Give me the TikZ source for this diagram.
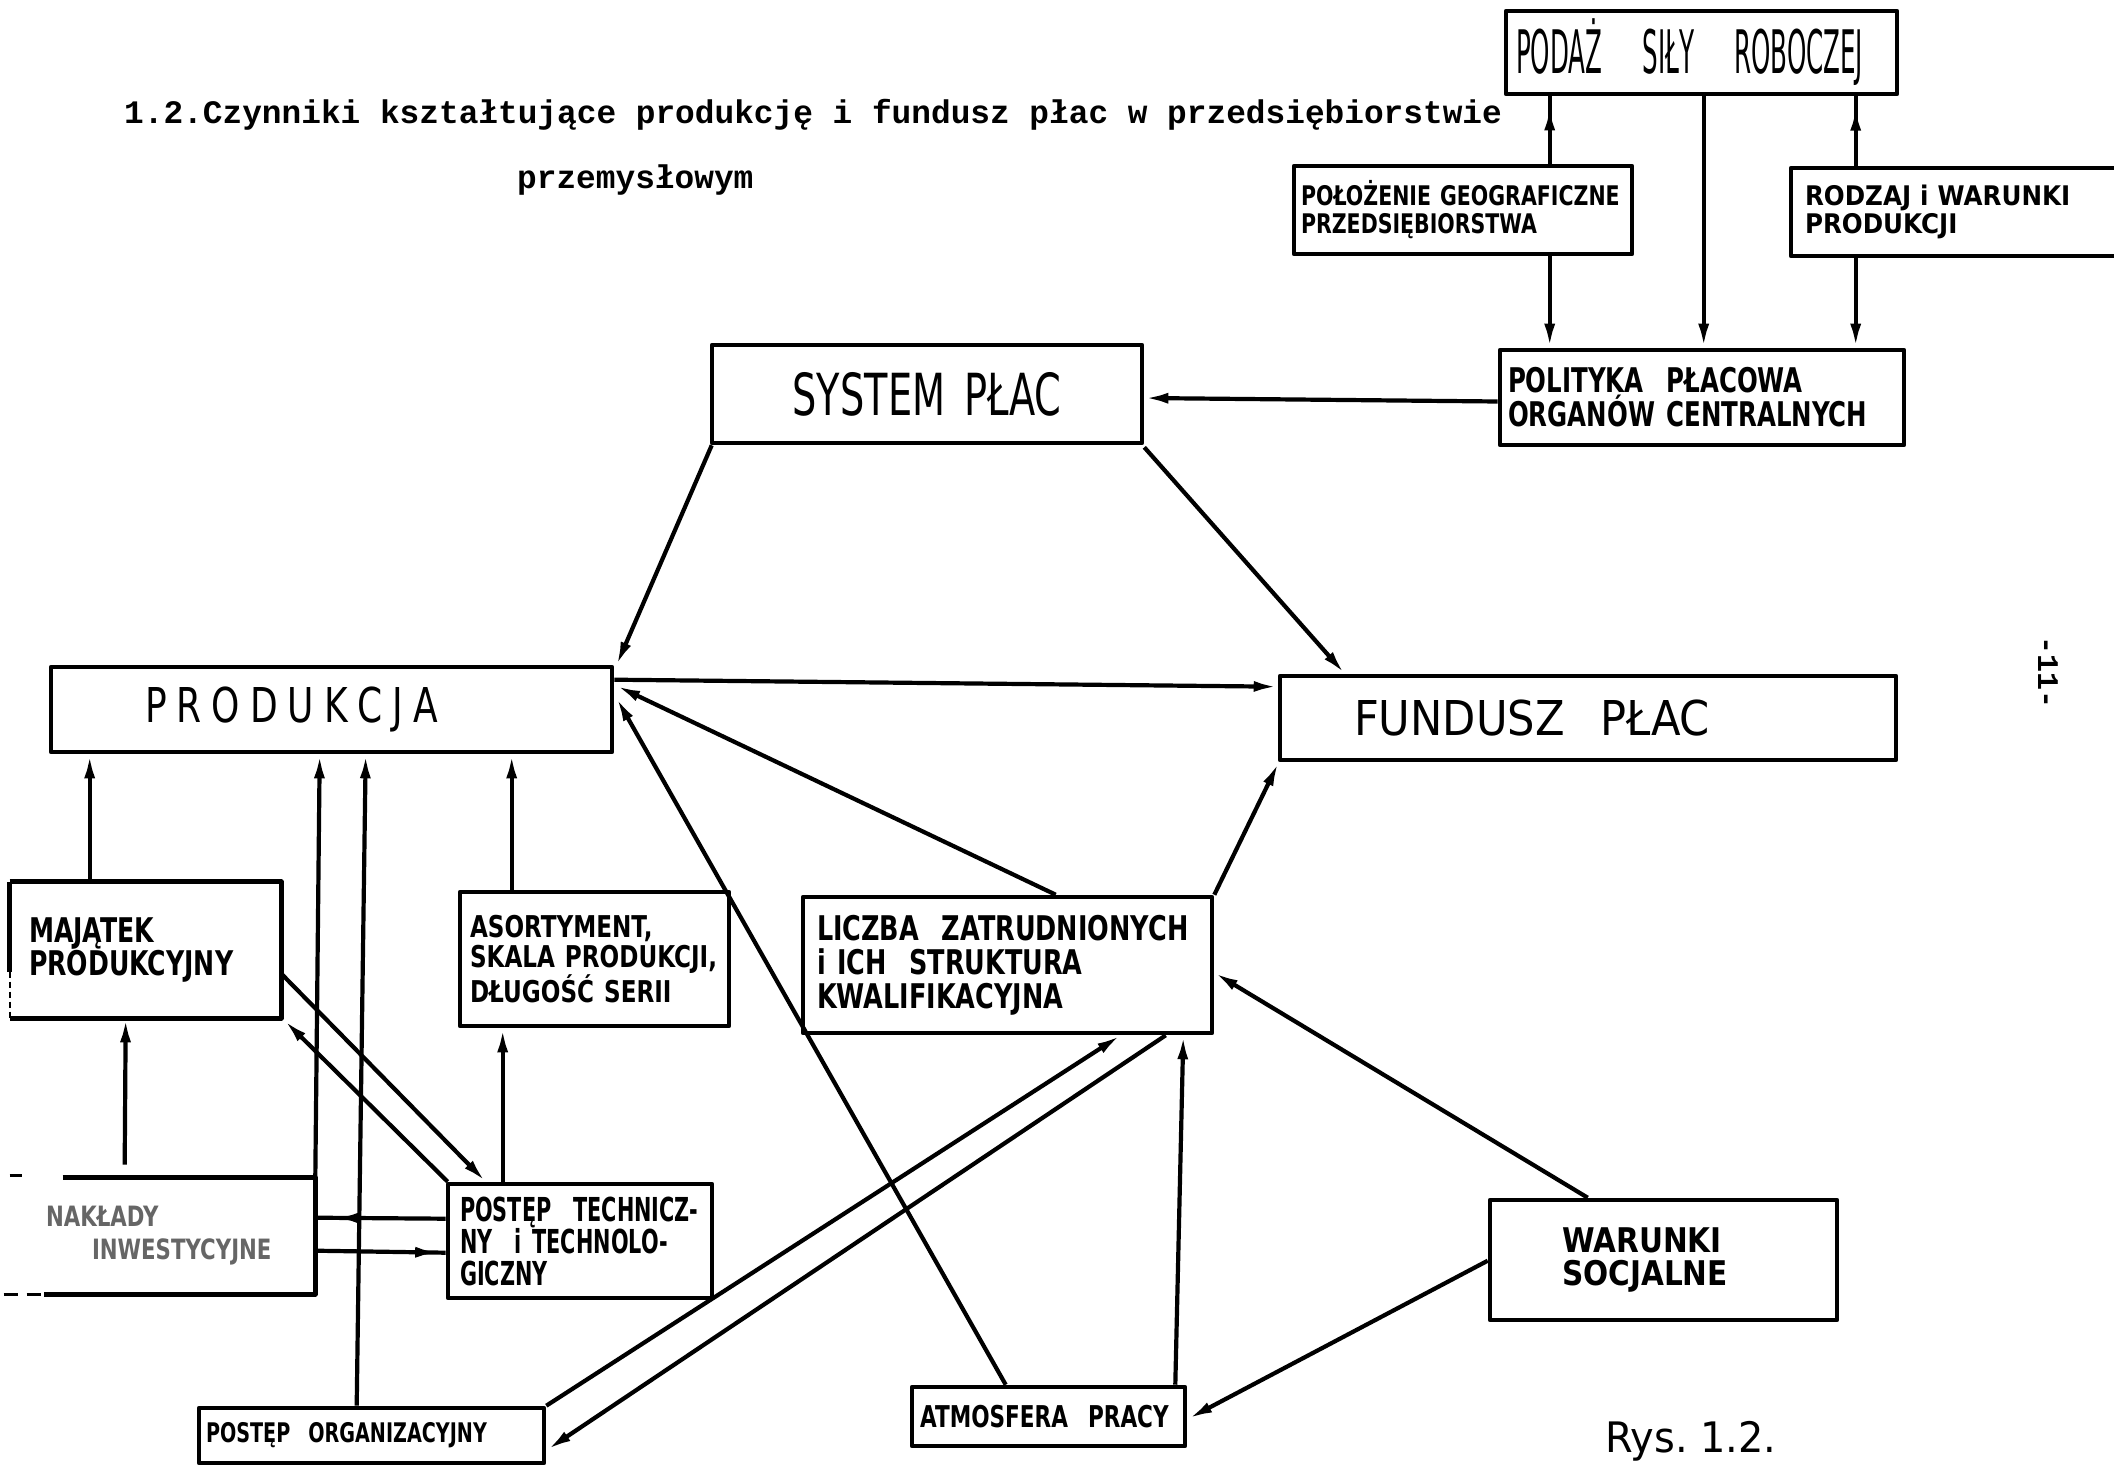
\documentclass[tikz,border=0pt]{standalone}
\usepackage{fontspec}
\setmainfont{DejaVu Sans}
\newfontfamily\hand{DejaVu Sans}
\newfontfamily\typew{Liberation Mono}
\usetikzlibrary{arrows.meta,calc,decorations.markings}

% hand lettering: size, baselineskip, horizontal stretch (no hyphenation inside boxes)
\newcommand\nohyph{\hyphenpenalty=10000 \exhyphenpenalty=10000 }
\newcommand\hwr[3]{\nohyph\hand\fontsize{#1pt}{#2pt}\selectfont\addfontfeature{FakeStretch=#3}}
\newcommand\hwb[3]{\nohyph\hand\bfseries\fontsize{#1pt}{#2pt}\selectfont\addfontfeature{FakeStretch=#3}}
\newcommand\ltrgap{\kern10pt}

\tikzset{
  boxline/.style={line width=4.6pt, line join=round},
  box/.style={boxline, draw, inner ysep=0pt, align=left},
  conn/.style={line width=4.2pt, -{Latex[length=24pt,width=11pt]}},
  midtip/.style={line width=4.2pt,
    decoration={markings, mark=at position #1 with {\arrow{Latex[length=24pt,width=11pt]}}},
    postaction={decorate}},
  typed/.style={inner sep=0pt, font=\typew\bfseries\fontsize{32.8pt}{34pt}\selectfont},
}

\begin{document}
\begin{tikzpicture}[x=1pt,y=-1pt]
\useasboundingbox (0,0) rectangle (2114,1469);

% headline
\node[typed, anchor=base west] (title) at (124,124)
  {1.2.Czynniki kształtujące produkcję i fundusz płac w przedsiębiorstwie};
\node[typed, anchor=base west] (title2) at (517,188) {przemysłowym};

% boxes
\node[box, minimum width=391pt, minimum height=83pt, text width=371pt, inner xsep=10pt,
  font={\hwr{60}{60}{0.41}}] (podaz) at (1701.5,52.5) {PODAŻ~~SIŁY~~ROBOCZEJ};
\node[box, minimum width=338pt, minimum height=88pt, text width=324pt, inner xsep=7pt,
  font={\hwb{27}{28}{0.76}}] (polo) at (1463,210) {POŁOŻENIE~GEOGRAFICZNE\\PRZEDSIĘBIORSTWA};
\node[box, minimum width=334pt, minimum height=88pt, text width=306pt, inner xsep=14pt,
  font={\hwb{27}{28}{0.91}}] (rodz) at (1958,212) {RODZAJ~i~WARUNKI\\PRODUKCJI};
\node[box, minimum width=404pt, minimum height=95pt, text width=388pt, inner xsep=8pt,
  font={\hwb{34}{34}{0.72}}] (polit) at (1702,397.5) {POLITYKA~~PŁACOWA\\ORGANÓW~CENTRALNYCH};
\node[box, align=center, minimum width=430pt, minimum height=98pt, text width=400pt, inner xsep=15pt,
  font={\hwr{58}{60}{0.66}}] (sys) at (927,394) {SYSTEM~PŁAC};
\node[box, minimum width=561pt, minimum height=85pt, text width=373pt, inner xsep=94pt,
  font={\hwr{48}{50}{0.75}}] (prod) at (331.5,709.5)
  {P\ltrgap R\ltrgap O\ltrgap D\ltrgap U\ltrgap K\ltrgap C\ltrgap J\ltrgap A};
\node[box, minimum width=616pt, minimum height=84pt, text width=468pt, inner xsep=74pt,
  font={\hwr{48}{50}{0.9}}] (fund) at (1588,718) {FUNDUSZ\hspace{36pt}PŁAC};
\node[box, draw=none, minimum width=267pt, minimum height=132pt, text width=233pt, inner xsep=17pt,
  font={\hwb{34}{30}{0.74}}] (maj) at (145.5,950) {MAJĄTEK\\PRODUKCYJNY};
\node[box, minimum width=269pt, minimum height=134pt, text width=249pt, inner xsep=10pt,
  font={\hwb{30}{30}{0.77}}] (asort) at (594.5,959) {ASORTYMENT,\\SKALA~PRODUKCJI,\\DŁUGOŚĆ~SERII};
\node[box, minimum width=409pt, minimum height=136pt, text width=381pt, inner xsep=14pt,
  font={\hwb{34}{34}{0.75}}] (licz) at (1007.5,965) {LICZBA~~ZATRUDNIONYCH\\i~ICH~~STRUKTURA\\KWALIFIKACYJNA};
\node[box, draw=none, text=black!60, minimum width=333pt, minimum height=112pt, text width=201pt, inner xsep=66pt,
  font={\hwb{28}{33}{0.76}}] (nakl) at (146.5,1236) {NAKŁADY\\\hspace*{46pt}INWESTYCYJNE};
\node[box, minimum width=264pt, minimum height=114pt, text width=240pt, inner xsep=12pt,
  font={\hwb{33}{32}{0.63}}] (ptech) at (580,1241) {POSTĘP~~TECHNICZ-\\NY~~i~TECHNOLO-\\GICZNY};
\node[box, minimum width=347pt, minimum height=120pt, text width=203pt, inner xsep=72pt,
  font={\hwb{34}{33}{0.87}}] (warsoc) at (1663.5,1260) {WARUNKI\\SOCJALNE};
\node[box, minimum width=345pt, minimum height=55pt, text width=331pt, inner xsep=7pt,
  font={\hwb{27}{28}{0.71}}] (porg) at (371.5,1435.5) {POSTĘP~~ORGANIZACYJNY};
\node[box, minimum width=273pt, minimum height=59pt, text width=257pt, inner xsep=8pt,
  font={\hwb{30}{30}{0.72}}] (atmo) at (1048.5,1416.5) {ATMOSFERA~~PRACY};

% open-sided outlines
\draw[boxline] (maj.north west) -- (maj.north east) -- (maj.south east) -- (maj.south west);
\draw[boxline] (maj.north west) -- ($(maj.north west)+(0,90)$);
\draw[line width=2pt, dash pattern=on 6pt off 4pt] ($(maj.north west)+(0,90)$) -- (maj.south west);
\draw[boxline] ($(nakl.north west)+(85,0)$) -- (nakl.north east) -- (nakl.south east) -- ($(nakl.south west)+(66,0)$);
\draw[line width=3pt] ($(nakl.north west)+(32,-2)$) -- ($(nakl.north west)+(44,-2)$);
\draw[line width=2.5pt, dash pattern=on 14pt off 9pt] ($(nakl.south west)+(26,0)$) -- ($(nakl.south west)+(66,0)$);

% labour supply block
\draw[midtip=0.85] ($(polo.north west)+(258,0)$) -- ($(podaz.south west)+(46,0)$);
\draw[conn] ($(polo.south west)+(258,0)$) -- ($(polit.north west)+(52,0)$);
\draw[conn] ($(podaz.south west)+(200,0)$) -- ($(polit.north west)+(206,0)$);
\draw[midtip=0.85] ($(rodz.north west)+(67,0)$) -- ($(podaz.south west)+(352,0)$);
\draw[conn] ($(rodz.south west)+(67,0)$) -- ($(polit.north west)+(358,0)$);
\draw[conn] ($(polit.west)+(0,4)$) -- ($(sys.east)+(0,4)$);

% wage system, production, wage fund
\draw[conn] ($(sys.south west)+(2,0)$) -- ($(prod.north east)+(2,1)$);
\draw[conn] ($(sys.south east)+(0,2)$) -- ($(fund.north west)+(67,0)$);
\draw[conn] ($(prod.north east)+(0,15)$) -- ($(fund.north west)+(0,13)$);
\draw[conn] ($(licz.north west)+(255,0)$) -- ($(prod.north east)+(2,21)$);
\draw[conn] (licz.north east) -- ($(fund.south west)+(1,0)$);
\draw[conn] ($(atmo.north west)+(96,0)$) -- ($(prod.north east)+(2,33)$);
\draw[conn] ($(atmo.north east)+(-12,0)$) -- ($(licz.south east)+(-31,0)$);
\draw[conn] ($(warsoc.north west)+(100,0)$) -- ($(licz.north east)+(0,78)$);
\draw[conn] ($(warsoc.north west)+(0,63)$) -- ($(atmo.north east)+(1,34)$);
\draw[conn] (porg.north east) -- ($(licz.south west)+(320,0)$);
\draw[conn] ($(licz.south west)+(365,0)$) -- ($(porg.north east)+(1,44)$);

% factors below production
\draw[conn] ($(maj.north west)+(80,0)$) -- ($(prod.south west)+(41,0)$);
\draw[conn] (nakl.north east) -- ($(prod.south west)+(271,0)$);
\draw[conn] ($(porg.north west)+(160,0)$) -- ($(prod.south west)+(317,0)$);
\draw[conn] ($(asort.north west)+(54,0)$) -- ($(prod.south west)+(463,0)$);
\draw[conn] ($(nakl.north west)+(147,-13)$) -- ($(maj.south west)+(116,0)$);
\draw[conn] ($(ptech.north west)+(57,0)$) -- ($(asort.south west)+(45,0)$);
\draw[conn] ($(maj.north east)+(1,93)$) -- ($(ptech.north west)+(40,0)$);
\draw[conn] ($(ptech.north west)+(2,0)$) -- ($(maj.south east)+(3,2)$);
\draw[midtip=0.85] ($(ptech.north west)+(0,37)$) -- ($(nakl.north east)+(0,40)$);
\draw[midtip=0.95] ($(nakl.north east)+(0,73)$) -- ($(ptech.north west)+(0,71)$);

% figure caption and page mark
\node[anchor=base west, inner sep=0pt, font={\hwr{42}{42}{0.95}}] (rys) at (1605,1452) {Rys.~1.2.};
\node[rotate=-90, inner sep=0pt, font=\typew\bfseries\fontsize{30pt}{30pt}\selectfont] (pnum) at (2048,672) {-11-};
\end{tikzpicture}
\end{document}
